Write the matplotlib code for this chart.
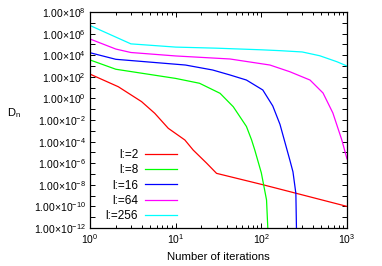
import numpy as np
import matplotlib
matplotlib.use("Agg")
import matplotlib.pyplot as plt

plt.rcParams['font.family'] = ['Liberation Sans', 'DejaVu Sans']
plt.rcParams['mathtext.fontset'] = 'custom'
plt.rcParams['mathtext.rm'] = 'Liberation Sans'
plt.rcParams['mathtext.it'] = 'Liberation Sans:italic'

# ---- data (y given as log10 D_n) ----
x_l2 = [1, 2.14, 4.0, 5.7, 8.2, 12.8, 16, 23, 30, 105, 165, 1000]
logy_l2 = [2.25, 1.08, -0.3, -1.38, -2.77, -3.85, -4.78, -6.0, -6.94, -8.0, -8.4, -10.0]

x_l8 = [1, 2, 10, 19, 33, 47, 67, 77, 84, 100, 115, 119, 119.5]
logy_l8 = [3.56, 2.7, 1.85, 1.4, 0.47, -0.77, -2.6, -3.85, -4.8, -6.9, -9.4, -12.0, -14.0]

x_l16 = [1, 2, 13, 27, 43, 67, 104, 136, 165, 215, 234, 253, 257, 257.5]
logy_l16 = [4.23, 3.62, 3.09, 2.63, 2.17, 1.7, 0.78, -0.7, -2.4, -5.7, -6.8, -8.8, -12.0, -14.0]

x_l64 = [1, 2, 3, 10, 43, 126, 215, 370, 525, 684, 870, 1000]
logy_l64 = [5.5, 4.57, 4.25, 3.93, 3.65, 3.09, 2.47, 1.7, 0.5, -1.35, -3.85, -5.6]

x_l256 = [1, 3, 10, 30, 100, 165, 300, 480, 760, 1000]
logy_l256 = [6.75, 5.05, 4.75, 4.65, 4.5, 4.42, 4.3, 3.95, 3.4, 3.0]

labels = ["l:=2", "l:=8", "l:=16", "l:=64", "l:=256"]
colors = ["#ff0000", "#00ff00", "#0000ff", "#ff00ff", "#00ffff"]
series = [(x_l2, logy_l2), (x_l8, logy_l8), (x_l16, logy_l16),
          (x_l64, logy_l64), (x_l256, logy_l256)]

ytick_exps = list(range(-12, 9))

fig = plt.figure(figsize=(3.82, 2.66), dpi=100)
ax = fig.add_axes([90/382, 38/266, 257/382, 216/266])

for (xs, ly), lab, c in zip(series, labels, colors):
    ax.plot(xs, 10.0 ** np.array(ly), color=c, lw=0.9, label=lab)

ax.set_xscale('log')
ax.set_yscale('log')
ax.set_xlim(1, 1000)
ax.set_ylim(1e-12, 1e8)

ax.set_yticks([10.0 ** e for e in ytick_exps])
ax.set_yticklabels([r'$1.00{\times}10^{%d}$' % e if e % 2 == 0 else '' for e in ytick_exps])
ax.yaxis.set_minor_locator(matplotlib.ticker.NullLocator())
ax.set_xticks([1, 10, 100, 1000])
ax.set_xticklabels([r'$10^{%d}$' % e for e in range(4)])
ax.xaxis.set_minor_locator(matplotlib.ticker.LogLocator(base=10, subs=np.arange(2, 10)))
ax.xaxis.set_minor_formatter(matplotlib.ticker.NullFormatter())

ax.tick_params(which='both', direction='in', top=True, right=True, labelsize=7.5,
               width=0.7, colors='black')
ax.tick_params(which='major', length=3.5, pad=3)
ax.tick_params(which='minor', length=2)
for s in ax.spines.values():
    s.set_linewidth(0.9)

ax.set_xlabel('Number of iterations', fontsize=8.2, labelpad=4)
fig.text(14/382, 1 - 113/266, r'D$_\mathrm{n}$', fontsize=8, ha='center', va='center')

ax.legend(loc='upper right', bbox_to_anchor=(0.3385, 0.366), frameon=False,
          markerfirst=False, fontsize=8.5, handlelength=2.7, handletextpad=0.6,
          labelspacing=0.28, borderpad=0, borderaxespad=0)

fig.savefig('out.png', dpi=100)
